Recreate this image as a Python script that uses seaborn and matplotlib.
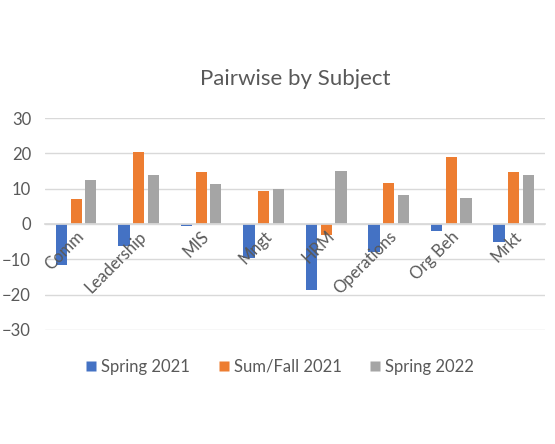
import numpy as np
import pandas as pd
import matplotlib.pyplot as plt
from matplotlib.lines import Line2D
import seaborn as sns

# values
subjects = ['Comm', 'Leadership', 'MIS', 'Mngt', 'HRM', 'Operations', 'Org Beh', 'Mrkt']
spring_2021 = [-11.7, -6.2, -0.7, -9.5, -18.8, -8.0, -1.9, -5.0]
sum_fall_2021 = [7.2, 20.5, 14.8, 9.3, -3.2, 11.7, 19.0, 14.8]
spring_2022 = [12.5, 14.0, 11.4, 10.0, 15.1, 8.3, 7.3, 14.0]
terms = ['Spring 2021', 'Sum/Fall 2021', 'Spring 2022']
colors = ['#4472C4', '#ED7D31', '#A5A5A5']

df = pd.DataFrame({'Subject': subjects, terms[0]: spring_2021,
                   terms[1]: sum_fall_2021, terms[2]: spring_2022})
long = df.melt(id_vars='Subject', var_name='Term', value_name='Value')

sns.set_theme(style='white')
plt.rcParams['font.family'] = ['Lato', 'DejaVu Sans']
txt = '#595959'

fig = plt.figure(figsize=(5.55, 4.44), dpi=100)
ax = fig.add_axes([0.081, 0.257, 0.901, 0.477])
sns.barplot(data=long, x='Subject', y='Value', hue='Term', palette=colors,
            width=0.7, gap=0.22, saturation=1, linewidth=0, ax=ax, legend=False)

ax.set_ylim(-30, 30)
ax.set_xlim(-0.5, len(subjects) - 0.5)
ax.set_yticks(range(-30, 31, 10))
ax.yaxis.grid(True, color='#D9D9D9', linewidth=1)
ax.set_axisbelow(True)
ax.xaxis.set_zorder(5)  # category labels sit on top of the bars
for s in ['top', 'right', 'left']:
    ax.spines[s].set_visible(False)
ax.spines['bottom'].set_position(('data', 0))
ax.spines['bottom'].set_color('#D9D9D9')
ax.tick_params(axis='both', length=0, colors=txt, labelsize=12)
ax.tick_params(axis='y', pad=10)
ax.tick_params(axis='x', pad=3)
plt.setp(ax.get_xticklabels(), rotation=45, ha='right', va='top',
         rotation_mode='anchor')
ax.set_xlabel('')
ax.set_ylabel('')
ax.set_title('Pairwise by Subject', fontsize=16, color=txt, pad=24)

# square legend keys like the original
handles = [Line2D([], [], marker='s', linestyle='none', markersize=7,
                  markerfacecolor=c, markeredgecolor='none') for c in colors]
ax.legend(handles, terms, loc='center', bbox_to_anchor=(0.47, -0.175), ncol=3,
          frameon=False, fontsize=12, labelcolor=txt, handlelength=0.6,
          handletextpad=0.3, columnspacing=1.7)

fig.savefig('out.png', dpi=100)
